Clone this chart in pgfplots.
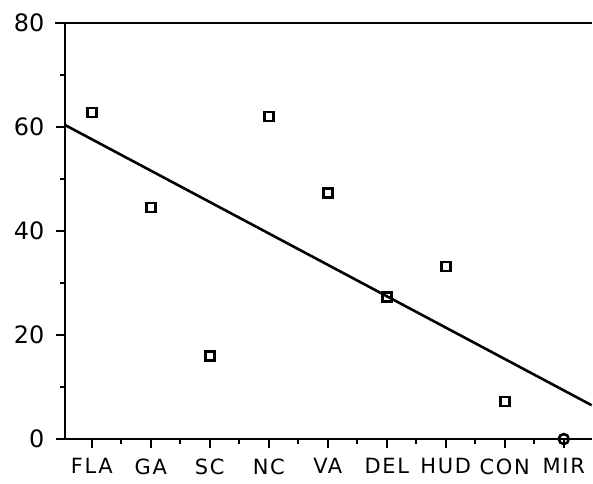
\documentclass[border=0pt]{standalone}
\usepackage{fontspec}
\setmainfont{DejaVu Sans}
\usepackage{pgfplots}
\pgfplotsset{compat=1.18}

\begin{document}
\begin{tikzpicture}
\begin{axis}[
    scale only axis,
    width=528pt, height=417pt,
    xmin=0.543, xmax=9.474,
    ymin=0, ymax=80,
    axis x line*=bottom,
    axis y line*=left,
    axis line style={line width=2.6pt},
    clip=false,
    tick align=outside,
    xtick={1,...,9},
    xticklabels={FLA,GA,SC,NC,VA,DEL,HUD,CON,MIR},
    minor x tick num=1,
    ytick={0,20,40,60,80},
    minor y tick num=1,
    major tick length=9pt,
    minor tick length=5pt,
    every tick/.style={black, line width=2pt},
    /pgf/number format/assume math mode=true,
    xticklabel style={font=\fontsize{21}{24}\selectfont\addfontfeature{LetterSpace=8}, yshift=-7pt},
    yticklabel style={font=\fontsize{24}{26}\selectfont, xshift=-8pt},
]
% bounding box so the picture keeps the reference's margins
\path (rel axis cs:-0.1231,-0.1079) rectangle (rel axis cs:1,1.0552);
% top border line, running out over the 80 tick
\draw[line width=2.6pt] ([xshift=-10pt]rel axis cs:0,1) -- (rel axis cs:1,1);

% fitted line
\addplot[black, line width=2.6pt, no marks] coordinates {
    (0.543, 60.4) (9.474, 6.5)
};

% observed values
\addplot[only marks, mark=square, mark size=4.5pt,
         mark options={line width=2.6pt, fill=white}] coordinates {
    (1, 62.8)   % FLA
    (2, 44.5)   % GA
    (3, 16.0)   % SC
    (4, 62.0)   % NC
    (5, 47.3)   % VA
    (6, 27.3)   % DEL
    (7, 33.2)   % HUD
    (8, 7.2)    % CON
};
\addplot[only marks, mark=o, mark size=5pt,
         mark options={line width=2.6pt, fill=white}] coordinates {
    (9, 0)      % MIR
};
\end{axis}
\end{tikzpicture}
\end{document}
